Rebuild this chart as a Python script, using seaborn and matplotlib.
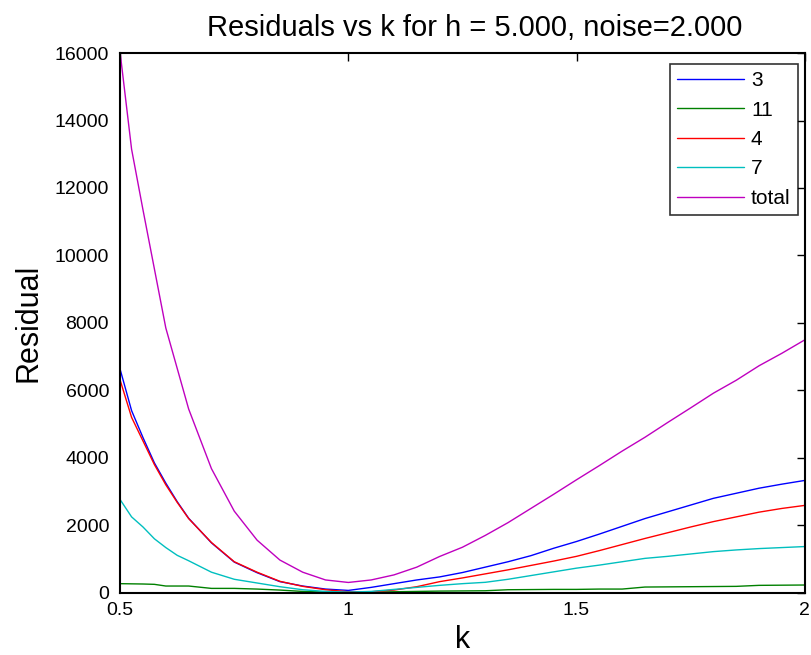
import numpy as np
import pandas as pd
import matplotlib
matplotlib.use("Agg")
import matplotlib.pyplot as plt
from matplotlib import font_manager
import seaborn as sns

# 数据：k 网格与各序列残差
k = [0.500, 0.525, 0.550, 0.575, 0.600, 0.625, 0.650, 0.70, 0.75, 0.80,
     0.85, 0.90, 0.95, 1.00, 1.05, 1.10, 1.15, 1.20, 1.25, 1.30,
     1.35, 1.40, 1.45, 1.50, 1.55, 1.60, 1.65, 1.70, 1.75, 1.80,
     1.85, 1.90, 1.95, 2.00]

res_3 = [6620, 5400, 4600, 3850, 3250, 2700, 2210, 1480, 910, 595,
         330, 200, 110, 70, 160, 270, 380, 470, 600, 760,
         920, 1100, 1320, 1520, 1740, 1970, 2200, 2400, 2600, 2800,
         2950, 3100, 3220, 3330]
res_11 = [270, 265, 260, 250, 200, 200, 200, 130, 130, 110,
          80, 40, 20, 20, 20, 30, 40, 50, 55, 60,
          90, 95, 100, 100, 110, 110, 170, 175, 180, 185,
          190, 220, 225, 230]
res_4 = [6300, 5200, 4500, 3800, 3200, 2680, 2200, 1490, 920, 610,
         340, 190, 90, 30, 30, 80, 180, 330, 440, 560,
         680, 810, 940, 1080, 1250, 1430, 1610, 1780, 1950, 2110,
         2250, 2390, 2500, 2590]
res_7 = [2760, 2250, 1950, 1600, 1340, 1110, 950, 610, 400, 290,
         180, 90, 40, 20, 40, 100, 160, 220, 270, 310,
         400, 510, 620, 730, 820, 920, 1020, 1080, 1150, 1220,
         1270, 1310, 1340, 1370]
res_total = [16000, 13150, 11350, 9600, 7850, 6650, 5450, 3680, 2420, 1560,
             970, 610, 380, 306, 380, 530, 760, 1076, 1350, 1700,
             2080, 2500, 2920, 3350, 3770, 4200, 4610, 5050, 5480, 5917,
             6300, 6730, 7100, 7496]

series_names = ["3", "11", "4", "7", "total"]
series_vals = [res_3, res_11, res_4, res_7, res_total]
series_colors = ["#0000ff", "#008000", "#ff0000", "#00bfbf", "#bf00bf"]

# 长格式数据表
df = pd.concat(
    [pd.DataFrame({"k": k, "Residual": v, "series": n})
     for n, v in zip(series_names, series_vals)],
    ignore_index=True)

sns.set_theme(style="white")
plt.rcParams["font.family"] = ["Liberation Sans", "DejaVu Sans"]
plt.rcParams["text.color"] = "black"
plt.rcParams["axes.labelcolor"] = "black"

# 标题用窄体（若已安装）
installed = {f.name for f in font_manager.fontManager.ttflist}
title_family = ["Liberation Sans Narrow"] if "Liberation Sans Narrow" in installed \
    else ["Liberation Sans"]
title_size = 24.5 if title_family[0].endswith("Narrow") else 21

fig = plt.figure(figsize=(8.12, 6.55), dpi=100)
ax = fig.add_axes([0.148, 0.095, 0.843, 0.824])

sns.lineplot(data=df, x="k", y="Residual", hue="series",
             hue_order=series_names,
             palette=dict(zip(series_names, series_colors)),
             linewidth=1.0, ax=ax, sort=False)

ax.set_xlim(0.5, 2)
ax.set_ylim(0, 16000)
ax.set_xticks([0.5, 1, 1.5, 2])
ax.set_xticklabels(["0.5", "1", "1.5", "2"])
ax.set_yticks(np.arange(0, 16001, 2000))
ax.tick_params(direction="in", top=True, right=True, length=6,
               width=1, colors="black", labelsize=14)
ax.tick_params(axis="x", pad=7)
ax.tick_params(axis="y", pad=8)
for s in ax.spines.values():
    s.set_color("black")
    s.set_linewidth(1.5)

ax.set_title("Residuals vs k for h = 5.000, noise=2.000", fontsize=title_size,
             family=title_family, pad=12, color="black", x=0.518)
ax.set_xlabel("k", fontsize=22, labelpad=4)
ax.set_ylabel("Residual", fontsize=22, labelpad=8)

leg = ax.legend(loc="upper right", fontsize=15, frameon=True, fancybox=False,
                handlelength=3.2, handletextpad=0.35, borderpad=0.35,
                labelspacing=0.5, borderaxespad=0,
                bbox_to_anchor=(0.99, 0.98))
leg.get_frame().set_edgecolor("black")
leg.get_frame().set_linewidth(1.2)
leg.set_title(None)
for t in leg.get_texts():
    t.set_color("black")

fig.savefig("out.png", dpi=100, facecolor="white")
